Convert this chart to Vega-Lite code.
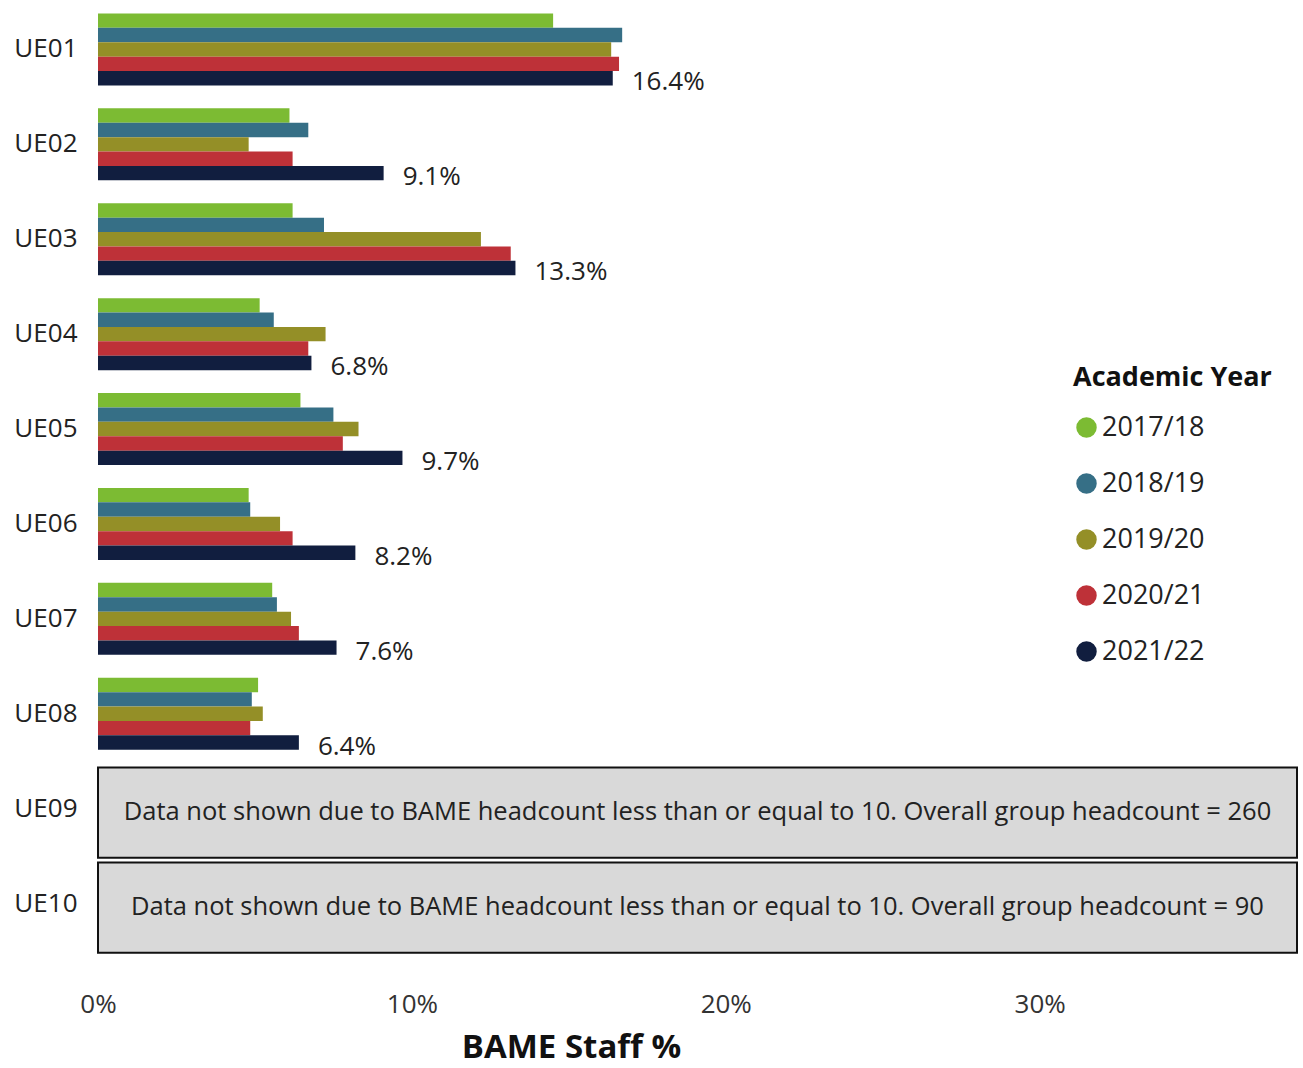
{
  "$schema": "https://vega.github.io/schema/vega-lite/v6.json",
  "autosize": "none",
  "width": 1199,
  "height": 949,
  "padding": {"left": 98, "top": 2, "right": 6, "bottom": 117},
  "background": "white",
  "config": {
    "view": {"stroke": null},
    "font": "Open Sans",
    "axis": {"grid": false, "domain": false, "ticks": false}
  },
  "datasets": {
    "bars": [
      {"group": "UE01", "year": "2017/18", "value": 14.5},
      {"group": "UE01", "year": "2018/19", "value": 16.7},
      {"group": "UE01", "year": "2019/20", "value": 16.35},
      {"group": "UE01", "year": "2020/21", "value": 16.6},
      {"group": "UE01", "year": "2021/22", "value": 16.4},
      {"group": "UE02", "year": "2017/18", "value": 6.1},
      {"group": "UE02", "year": "2018/19", "value": 6.7},
      {"group": "UE02", "year": "2019/20", "value": 4.8},
      {"group": "UE02", "year": "2020/21", "value": 6.2},
      {"group": "UE02", "year": "2021/22", "value": 9.1},
      {"group": "UE03", "year": "2017/18", "value": 6.2},
      {"group": "UE03", "year": "2018/19", "value": 7.2},
      {"group": "UE03", "year": "2019/20", "value": 12.2},
      {"group": "UE03", "year": "2020/21", "value": 13.15},
      {"group": "UE03", "year": "2021/22", "value": 13.3},
      {"group": "UE04", "year": "2017/18", "value": 5.15},
      {"group": "UE04", "year": "2018/19", "value": 5.6},
      {"group": "UE04", "year": "2019/20", "value": 7.25},
      {"group": "UE04", "year": "2020/21", "value": 6.7},
      {"group": "UE04", "year": "2021/22", "value": 6.8},
      {"group": "UE05", "year": "2017/18", "value": 6.45},
      {"group": "UE05", "year": "2018/19", "value": 7.5},
      {"group": "UE05", "year": "2019/20", "value": 8.3},
      {"group": "UE05", "year": "2020/21", "value": 7.8},
      {"group": "UE05", "year": "2021/22", "value": 9.7},
      {"group": "UE06", "year": "2017/18", "value": 4.8},
      {"group": "UE06", "year": "2018/19", "value": 4.85},
      {"group": "UE06", "year": "2019/20", "value": 5.8},
      {"group": "UE06", "year": "2020/21", "value": 6.2},
      {"group": "UE06", "year": "2021/22", "value": 8.2},
      {"group": "UE07", "year": "2017/18", "value": 5.55},
      {"group": "UE07", "year": "2018/19", "value": 5.7},
      {"group": "UE07", "year": "2019/20", "value": 6.15},
      {"group": "UE07", "year": "2020/21", "value": 6.4},
      {"group": "UE07", "year": "2021/22", "value": 7.6},
      {"group": "UE08", "year": "2017/18", "value": 5.1},
      {"group": "UE08", "year": "2018/19", "value": 4.9},
      {"group": "UE08", "year": "2019/20", "value": 5.25},
      {"group": "UE08", "year": "2020/21", "value": 4.85},
      {"group": "UE08", "year": "2021/22", "value": 6.4}
    ],
    "notes": [
      {"group": "UE09", "note": "Data not shown due to BAME headcount less than or equal to 10. Overall group headcount = 260"},
      {"group": "UE10", "note": "Data not shown due to BAME headcount less than or equal to 10. Overall group headcount = 90"}
    ]
  },
  "encoding": {
    "y": {
      "field": "group",
      "type": "nominal",
      "scale": {"domain": ["UE01","UE02","UE03","UE04","UE05","UE06","UE07","UE08","UE09","UE10"], "paddingInner": 0, "paddingOuter": 0},
      "axis": {"title": null, "labelFontSize": 26, "labelColor": "#222222", "labelPadding": 21}
    }
  },
  "layer": [
    {
      "data": {"name": "bars"},
      "mark": {"type": "bar"},
      "encoding": {
        "x": {
          "field": "value",
          "type": "quantitative",
          "scale": {"domain": [0, 38.2], "nice": false, "zero": true},
          "axis": {
            "values": [0, 10, 20, 30],
            "labelExpr": "datum.value + '%'",
            "labelFlush": false,
            "labelFontSize": 26,
            "labelColor": "#333333",
            "labelPadding": 40,
            "title": "BAME Staff %",
            "titleFontSize": 33,
            "titleFontWeight": "bold",
            "titleColor": "#111111",
            "titlePadding": 14,
            "titleX": 473
          }
        },
        "yOffset": {
          "field": "year",
          "type": "nominal",
          "scale": {"paddingInner": 0, "paddingOuter": 0.795}
        },
        "color": {
          "field": "year",
          "type": "nominal",
          "scale": {
            "domain": ["2017/18","2018/19","2019/20","2020/21","2021/22"],
            "range": ["#7CBB33","#366F86","#948F27","#BE3138","#111E3F"]
          },
          "legend": {
            "title": "Academic Year",
            "orient": "none",
            "legendX": 975,
            "legendY": 363,
            "titleFontSize": 27,
            "titleFontWeight": "bold",
            "titleColor": "#111111",
            "titleLimit": 400,
            "titlePadding": 22,
            "labelFontSize": 27,
            "labelColor": "#222222",
            "labelOffset": 2,
            "symbolType": "circle",
            "symbolSize": 420,
            "symbolStrokeWidth": 0,
            "symbolOpacity": 1,
            "rowPadding": 28
          }
        }
      }
    },
    {
      "data": {"name": "bars"},
      "transform": [{"filter": "datum.year === '2021/22'"}],
      "mark": {"type": "text", "align": "left", "baseline": "middle", "dx": 19, "dy": 4, "fontSize": 26, "color": "#222222", "text": {"expr": "format(datum.value, '.1f') + '%'"}},
      "encoding": {
        "x": {"field": "value", "type": "quantitative"},
        "yOffset": {"field": "year", "type": "nominal"}
      }
    },
    {
      "data": {"name": "notes"},
      "mark": {"type": "bar", "fill": "#D9D9D9", "stroke": "#111111", "strokeWidth": 2, "height": {"band": 0.95}, "yOffset": 4},
      "encoding": {
        "x": {"datum": 0},
        "x2": {"datum": 38.2}
      }
    },
    {
      "data": {"name": "notes"},
      "mark": {"type": "text", "align": "center", "baseline": "middle", "fontSize": 25.5, "color": "#222222", "yOffset": 3},
      "encoding": {
        "x": {"datum": 19.1},
        "text": {"field": "note", "type": "nominal"}
      }
    }
  ]
}
